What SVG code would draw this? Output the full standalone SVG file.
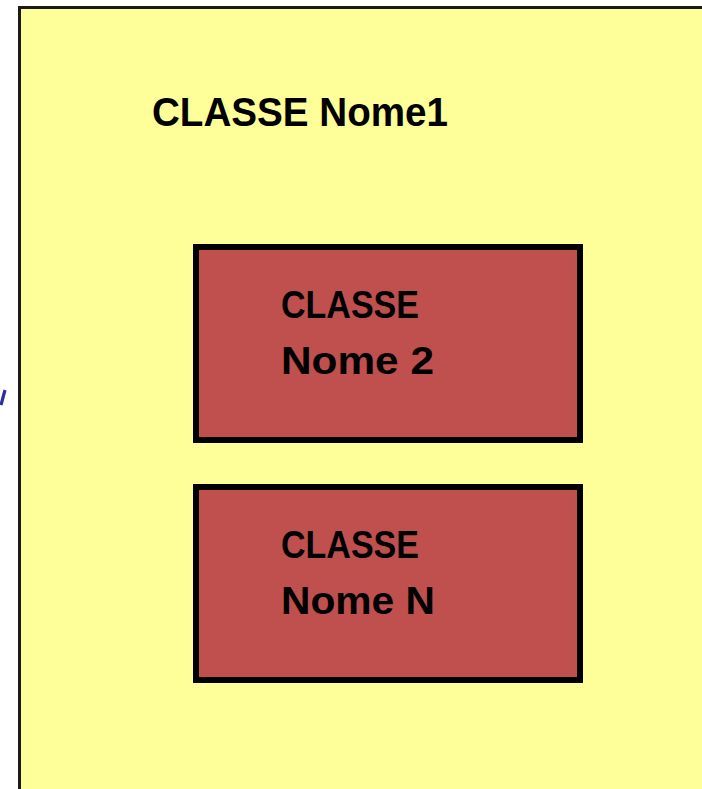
<svg xmlns="http://www.w3.org/2000/svg" width="702" height="789" viewBox="0 0 702 789">
  <style>
    .outer { fill: #FFFF99; stroke: #1a1a1a; stroke-width: 3; }
    .inner { fill: #C0504D; stroke: #000000; stroke-width: 6; }
    .label { font-family: "Liberation Sans", Arial, sans-serif; font-weight: bold; fill: #000000; }
    .title { font-size: 41px; }
    .body { font-size: 38px; }
  </style>
  <rect width="702" height="789" fill="#ffffff"/>

  <!-- stray mark at the left edge -->
  <line x1="5" y1="390" x2="1" y2="405" stroke="#2e2ea0" stroke-width="3.2"/>

  <!-- outer container class -->
  <g id="classe-nome1">
    <rect class="outer" x="19.5" y="7.5" width="700" height="800"/>
    <text class="label title" x="152" y="126" textLength="296" lengthAdjust="spacingAndGlyphs">CLASSE Nome1</text>
  </g>

  <!-- nested class 2 -->
  <g id="classe-nome2">
    <rect class="inner" x="196" y="247" width="384" height="193"/>
    <text class="label body" x="281" y="318" textLength="138" lengthAdjust="spacingAndGlyphs">CLASSE</text>
    <text class="label body" x="281" y="374" textLength="153" lengthAdjust="spacingAndGlyphs">Nome 2</text>
  </g>

  <!-- nested class N -->
  <g id="classe-nomeN">
    <rect class="inner" x="196" y="487" width="384" height="193"/>
    <text class="label body" x="281" y="558" textLength="138" lengthAdjust="spacingAndGlyphs">CLASSE</text>
    <text class="label body" x="281" y="614" textLength="154" lengthAdjust="spacingAndGlyphs">Nome N</text>
  </g>

  <g id="connectors"/>
</svg>
